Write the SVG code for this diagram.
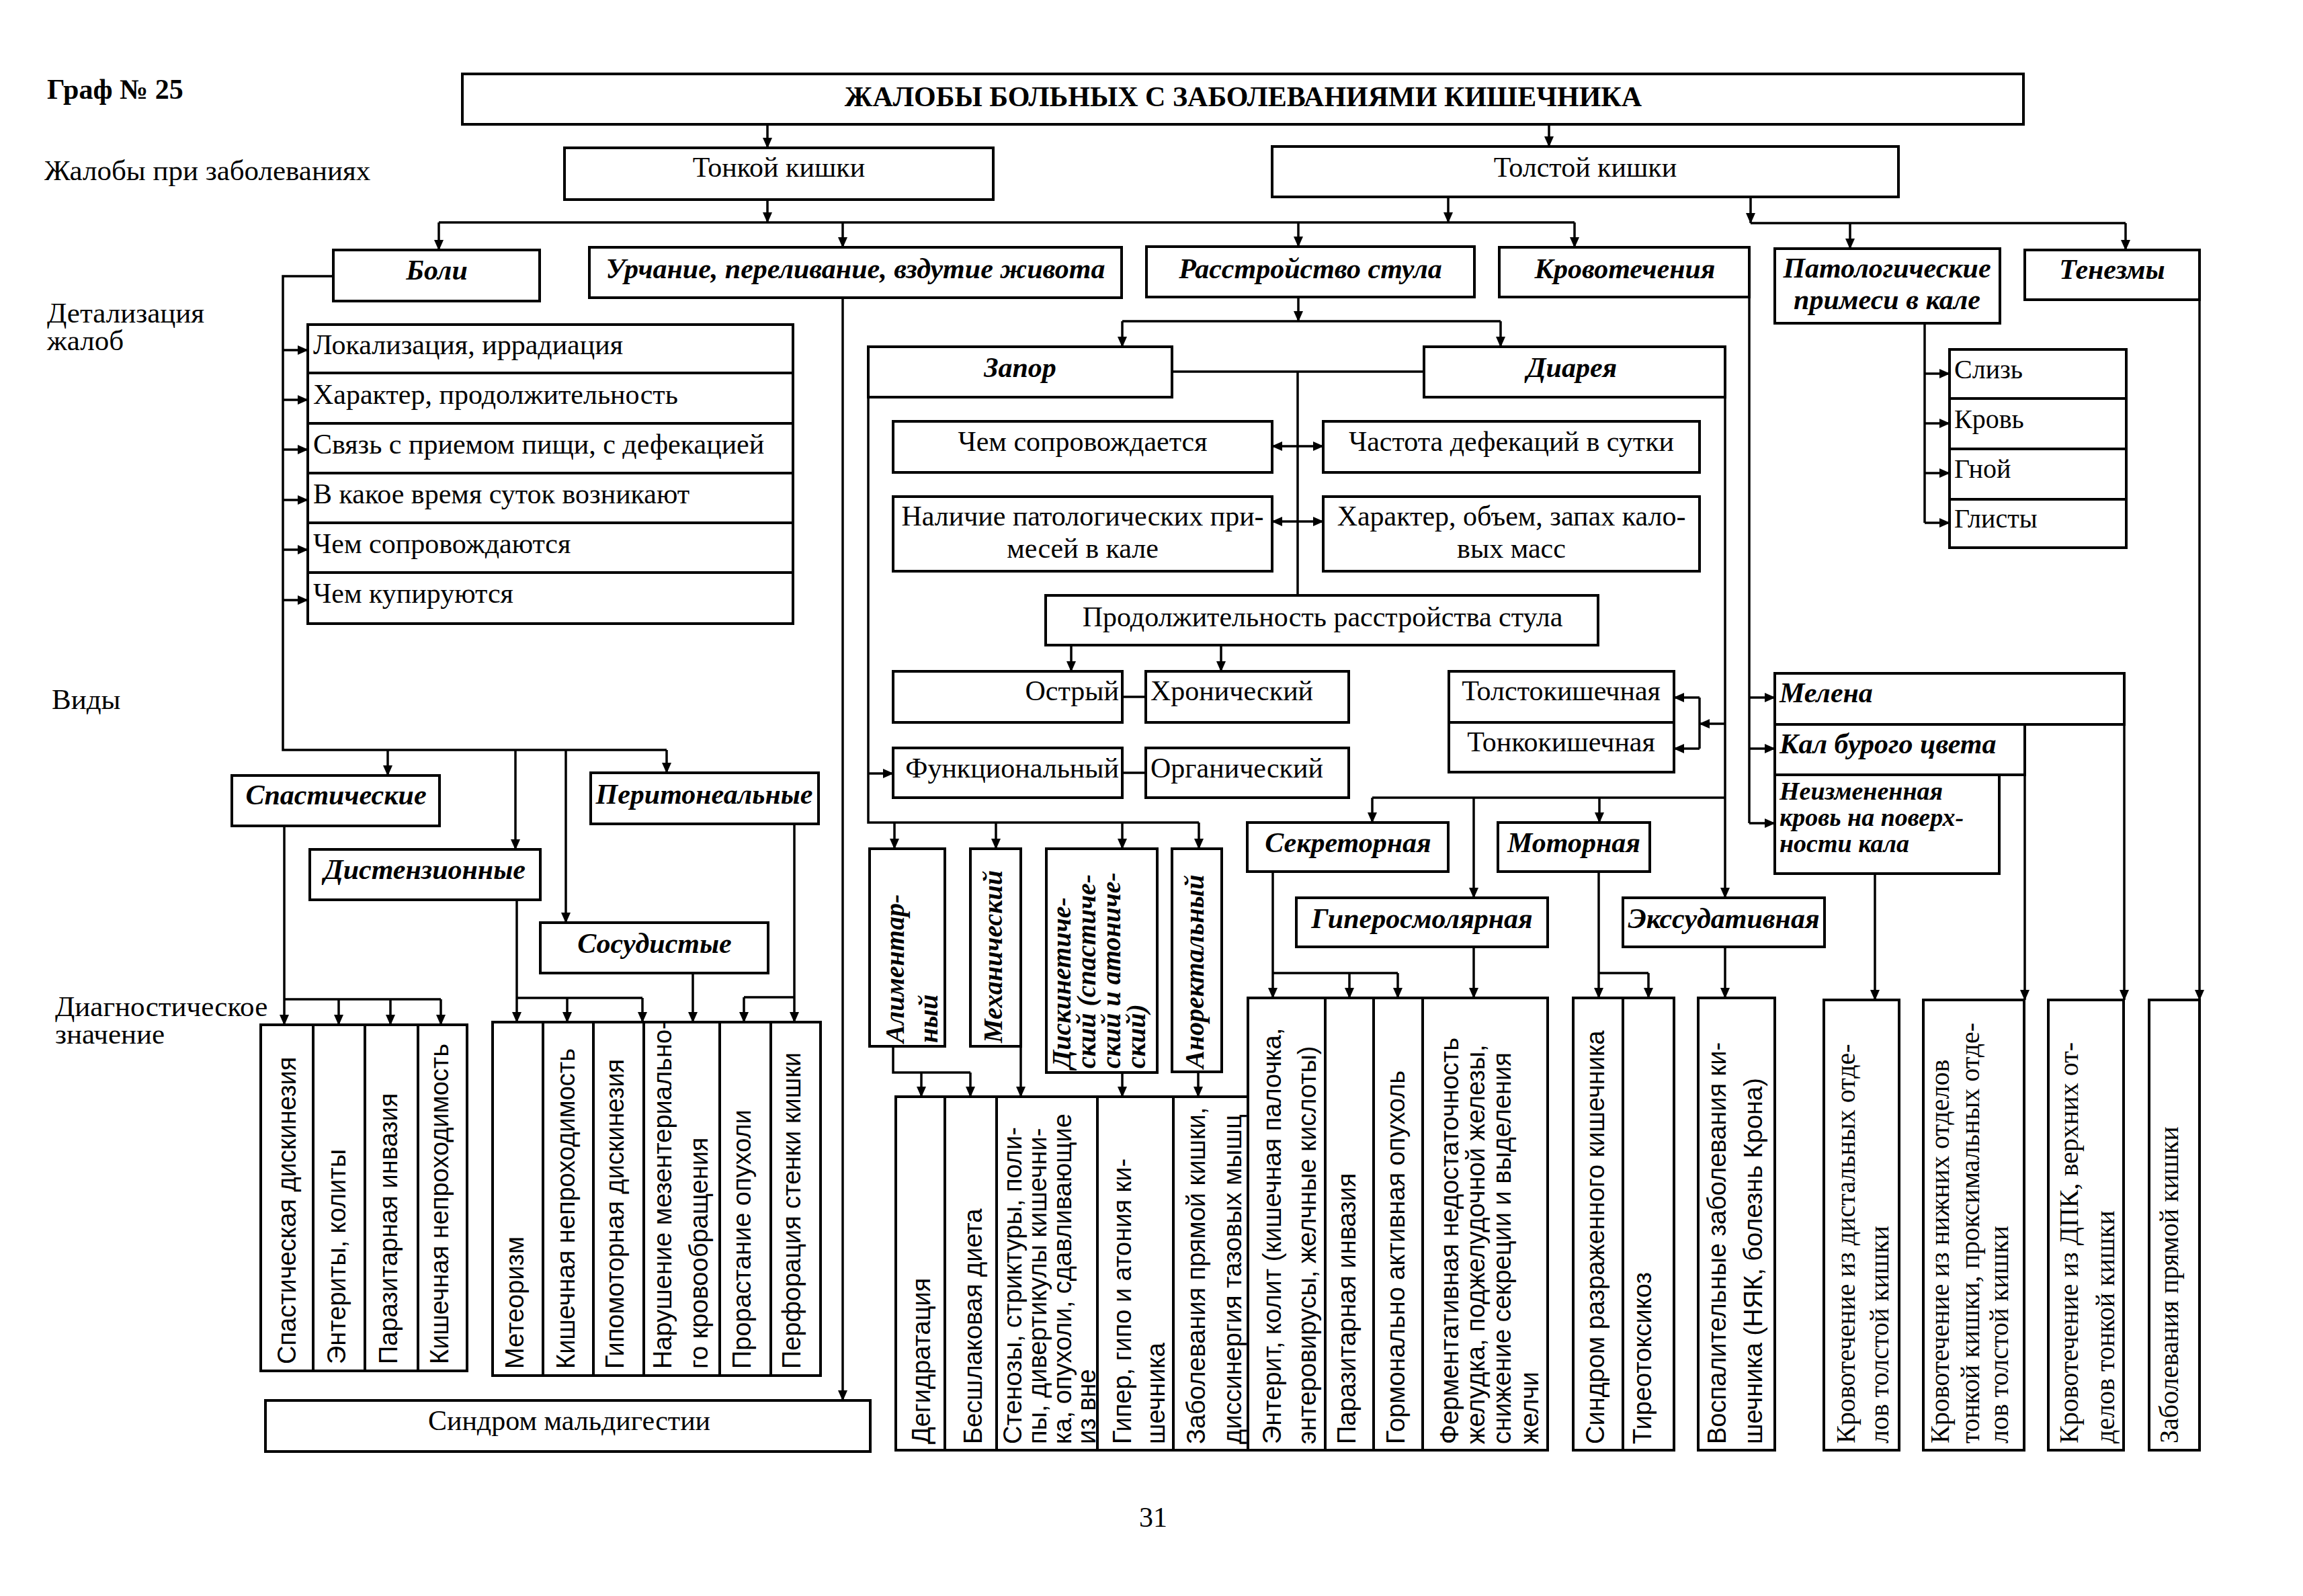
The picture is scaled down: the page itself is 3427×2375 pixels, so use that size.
<svg xmlns="http://www.w3.org/2000/svg" width="3427" height="2375" viewBox="0 0 3427 2375">
<style>
.bg{fill:#fff}
.box{fill:#fff;stroke:#000;stroke-width:4}
.c{fill:none;stroke:#000;stroke-width:3.5}
.a{marker-end:url(#ah)}
.d{marker-start:url(#ah);marker-end:url(#ah)}
.t{font-family:"Liberation Serif","Times New Roman",serif;font-size:42px;fill:#000}
.tv{font-family:"Liberation Serif","Times New Roman",serif;font-size:40px;fill:#000}
.m{text-anchor:middle}
.e{text-anchor:end}
.bi{font-family:"Liberation Serif","Times New Roman",serif;font-size:42px;font-weight:bold;font-style:italic;fill:#000}
.bs{font-family:"Liberation Serif","Times New Roman",serif;font-size:38px;font-weight:bold;font-style:italic;fill:#000}
.vb{font-family:"Liberation Serif","Times New Roman",serif;font-size:40px;font-weight:bold;font-style:italic;fill:#000}
.v{font-family:"Liberation Sans",Arial,sans-serif;font-size:38px;fill:#000}
.lbl{font-family:"Liberation Serif","Times New Roman",serif;font-size:43px;fill:#000}
.hd{font-family:"Liberation Serif","Times New Roman",serif;font-size:42px;font-weight:bold;fill:#000}
</style>
<defs>
<marker id="ah" viewBox="0 0 16 14" refX="15" refY="7" markerWidth="16" markerHeight="14" markerUnits="userSpaceOnUse" orient="auto-start-reverse"><path d="M0,0 L16,7 L0,14 z" fill="#000"/></marker>
</defs>
<rect class="bg" x="0" y="0" width="3427" height="2375"/>

<g id="labels">
<text class="hd" x="70" y="147">Граф № 25</text>
<text class="lbl" x="66" y="268">Жалобы при заболеваниях</text>
<text class="lbl" x="70" y="480">Детализация</text>
<text class="lbl" x="70" y="521">жалоб</text>
<text class="lbl" x="77" y="1055">Виды</text>
<text class="lbl" x="82" y="1512">Диагностическое</text>
<text class="lbl" x="82" y="1553">значение</text>
<text class="t m" x="1716" y="2272">31</text>
</g>

<g id="connectors">
<path class="c a" d="M1142,185 V220"/>
<path class="c a" d="M2305,185 V218"/>
<path class="c a" d="M1142,297 V331"/>
<path class="c a" d="M2155,293 V331"/>
<path class="c" d="M653,331 H2343"/>
<path class="c a" d="M653,331 V372"/>
<path class="c a" d="M1254,331 V368"/>
<path class="c a" d="M1932,331 V367"/>
<path class="c a" d="M2343,331 V368"/>
<path class="c a" d="M2605,293 V332"/>
<path class="c" d="M2605,332 H3163"/>
<path class="c a" d="M2753,332 V370"/>
<path class="c a" d="M3163,332 V372"/>
<path class="c" d="M496,411 H421 V1116 H992"/>
<path class="c a" d="M421,521 H458"/>
<path class="c a" d="M421,595 H458"/>
<path class="c a" d="M421,669 H458"/>
<path class="c a" d="M421,744 H458"/>
<path class="c a" d="M421,818 H458"/>
<path class="c a" d="M421,893 H458"/>
<path class="c a" d="M577,1116 V1154"/>
<path class="c a" d="M767,1116 V1264"/>
<path class="c a" d="M842,1116 V1373"/>
<path class="c a" d="M992,1116 V1150"/>
<path class="c a" d="M1254,443 V2084"/>
<path class="c a" d="M423,1229 V1525"/>
<path class="c" d="M423,1487 H656"/>
<path class="c a" d="M504,1487 V1525"/>
<path class="c a" d="M581,1487 V1525"/>
<path class="c a" d="M656,1487 V1525"/>
<path class="c a" d="M769,1339 V1521"/>
<path class="c" d="M769,1485 H956"/>
<path class="c a" d="M844,1485 V1521"/>
<path class="c a" d="M956,1485 V1521"/>
<path class="c a" d="M1031,1448 V1521"/>
<path class="c a" d="M1182,1226 V1521"/>
<path class="c" d="M1107,1484 H1182"/>
<path class="c a" d="M1107,1484 V1521"/>
<path class="c a" d="M1932,442 V478"/>
<path class="c" d="M1670,478 H2233"/>
<path class="c a" d="M1670,478 V516"/>
<path class="c a" d="M2233,478 V516"/>
<path class="c" d="M1744,553 H2119 M1931,553 V886"/>
<path class="c d" d="M1893,664 H1969"/>
<path class="c d" d="M1893,776 H1969"/>
<path class="c a" d="M1594,960 V999"/>
<path class="c a" d="M1817,960 V999"/>
<path class="c" d="M1670,1037 H1705 M1670,1150 H1705"/>
<path class="c" d="M1292,591 V1224 H1784"/>
<path class="c a" d="M1292,1151 H1329"/>
<path class="c a" d="M1331,1224 V1263"/>
<path class="c a" d="M1482,1224 V1263"/>
<path class="c a" d="M1670,1224 V1263"/>
<path class="c a" d="M1784,1224 V1263"/>
<path class="c" d="M1329,1557 V1596 H1444"/>
<path class="c a" d="M1371,1596 V1632"/>
<path class="c a" d="M1444,1596 V1632"/>
<path class="c a" d="M1519,1557 V1632"/>
<path class="c a" d="M1670,1596 V1632"/>
<path class="c a" d="M1783,1595 V1632"/>
<path class="c a" d="M2567,591 V1336"/>
<path class="c a" d="M2567,1077 H2529"/>
<path class="c" d="M2529,1038 V1114"/>
<path class="c a" d="M2529,1038 H2491"/>
<path class="c a" d="M2529,1114 H2491"/>
<path class="c" d="M2042,1187 H2567"/>
<path class="c a" d="M2042,1187 V1224"/>
<path class="c a" d="M2193,1187 V1336"/>
<path class="c a" d="M2380,1187 V1224"/>
<path class="c a" d="M1894,1297 V1485"/>
<path class="c" d="M1894,1448 H2080"/>
<path class="c a" d="M2008,1448 V1485"/>
<path class="c a" d="M2080,1448 V1485"/>
<path class="c a" d="M2193,1409 V1485"/>
<path class="c a" d="M2379,1297 V1485"/>
<path class="c" d="M2379,1448 H2453"/>
<path class="c a" d="M2453,1448 V1485"/>
<path class="c a" d="M2567,1409 V1485"/>
<path class="c" d="M2603,442 V1225"/>
<path class="c a" d="M2603,1038 H2641"/>
<path class="c a" d="M2603,1114 H2641"/>
<path class="c a" d="M2603,1225 H2641"/>
<path class="c" d="M2864,479 V778"/>
<path class="c a" d="M2864,556 H2901"/>
<path class="c a" d="M2864,630 H2901"/>
<path class="c a" d="M2864,704 H2901"/>
<path class="c a" d="M2864,778 H2901"/>
<path class="c a" d="M2790,1300 V1488"/>
<path class="c a" d="M3013,1153 V1488"/>
<path class="c a" d="M3161,1078 V1488"/>
<path class="c a" d="M3273,446 V1488"/>
</g>

<g id="n-title"><rect class="box" x="688" y="110" width="2323" height="75"/><text class="hd m" x="1850" y="158">ЖАЛОБЫ БОЛЬНЫХ С ЗАБОЛЕВАНИЯМИ КИШЕЧНИКА</text></g>
<g id="n-tonk"><rect class="box" x="840" y="220" width="638" height="77"/><text class="t m" x="1159" y="263">Тонкой кишки</text></g>
<g id="n-tolst"><rect class="box" x="1893" y="218" width="932" height="75"/><text class="t m" x="2359" y="263">Толстой кишки</text></g>

<g id="n-boli"><rect class="box" x="496" y="372" width="307" height="76"/><text class="bi m" x="650" y="416">Боли</text></g>
<g id="n-urch"><rect class="box" x="877" y="368" width="792" height="75"/><text class="bi m" x="1273" y="414">Урчание, переливание, вздутие живота</text></g>
<g id="n-rasstr"><rect class="box" x="1706" y="367" width="488" height="75"/><text class="bi m" x="1950" y="414">Расстройство стула</text></g>
<g id="n-krov"><rect class="box" x="2231" y="368" width="372" height="74"/><text class="bi m" x="2418" y="414">Кровотечения</text></g>
<g id="n-patol"><rect class="box" x="2641" y="370" width="335" height="111"/><text class="bi m" x="2808" y="413">Патологические</text><text class="bi m" x="2808" y="460">примеси в кале</text></g>
<g id="n-tenez"><rect class="box" x="3013" y="372" width="260" height="74"/><text class="bi m" x="3143" y="415">Тенезмы</text></g>

<g id="n-d1"><rect class="box" x="458" y="483" width="722" height="72"/><text class="t" x="466" y="527">Локализация, иррадиация</text></g>
<g id="n-d2"><rect class="box" x="458" y="555" width="722" height="75"/><text class="t" x="466" y="601">Характер, продолжительность</text></g>
<g id="n-d3"><rect class="box" x="458" y="630" width="722" height="74"/><text class="t" x="466" y="675">Связь с приемом пищи, с дефекацией</text></g>
<g id="n-d4"><rect class="box" x="458" y="704" width="722" height="74"/><text class="t" x="466" y="749">В какое время суток возникают</text></g>
<g id="n-d5"><rect class="box" x="458" y="778" width="722" height="74"/><text class="t" x="466" y="823">Чем сопровождаются</text></g>
<g id="n-d6"><rect class="box" x="458" y="852" width="722" height="76"/><text class="t" x="466" y="897">Чем купируются</text></g>

<g id="n-spast"><rect class="box" x="345" y="1154" width="309" height="75"/><text class="bi m" x="500" y="1197">Спастические</text></g>
<g id="n-disten"><rect class="box" x="461" y="1264" width="343" height="75"/><text class="bi m" x="632" y="1308">Дистензионные</text></g>
<g id="n-sosud"><rect class="box" x="804" y="1373" width="339" height="75"/><text class="bi m" x="974" y="1418">Сосудистые</text></g>
<g id="n-perit"><rect class="box" x="879" y="1150" width="339" height="76"/><text class="bi m" x="1048" y="1196">Перитонеальные</text></g>

<g id="n-g1a"><rect class="box" x="388" y="1525" width="78" height="515"/><text class="v" transform="translate(440,2030) rotate(-90)">Спастическая дискинезия</text></g>
<g id="n-g1b"><rect class="box" x="466" y="1525" width="77" height="515"/><text class="v" transform="translate(514,2030) rotate(-90)">Энтериты, колиты</text></g>
<g id="n-g1c"><rect class="box" x="543" y="1525" width="79" height="515"/><text class="v" transform="translate(591,2030) rotate(-90)">Паразитарная инвазия</text></g>
<g id="n-g1d"><rect class="box" x="622" y="1525" width="73" height="515"/><text class="v" transform="translate(667,2030) rotate(-90)">Кишечная непроходимость</text></g>

<g id="n-g2a"><rect class="box" x="733" y="1521" width="75" height="526"/><text class="v" transform="translate(779,2037) rotate(-90)">Метеоризм</text></g>
<g id="n-g2b"><rect class="box" x="808" y="1521" width="75" height="526"/><text class="v" transform="translate(855,2037) rotate(-90)">Кишечная непроходимость</text></g>
<g id="n-g2c"><rect class="box" x="883" y="1521" width="75" height="526"/><text class="v" transform="translate(928,2037) rotate(-90)">Гипомоторная дискинезия</text></g>
<g id="n-g2d"><rect class="box" x="958" y="1521" width="113" height="526"/><text class="v" transform="translate(999,2037) rotate(-90)"><tspan x="0" y="0">Нарушение мезентериально-</tspan><tspan x="0" y="54">го кровообращения</tspan></text></g>
<g id="n-g2e"><rect class="box" x="1071" y="1521" width="76" height="526"/><text class="v" transform="translate(1117,2037) rotate(-90)">Прорастание опухоли</text></g>
<g id="n-g2f"><rect class="box" x="1147" y="1521" width="74" height="526"/><text class="v" transform="translate(1191,2037) rotate(-90)">Перфорация стенки кишки</text></g>

<g id="n-maldig"><rect class="box" x="395" y="2084" width="900" height="76"/><text class="t m" x="847" y="2128">Синдром мальдигестии</text></g>

<g id="n-zapor"><rect class="box" x="1292" y="516" width="452" height="75"/><text class="bi m" x="1518" y="561">Запор</text></g>
<g id="n-diar"><rect class="box" x="2119" y="516" width="448" height="75"/><text class="bi m" x="2339" y="561">Диарея</text></g>
<g id="n-chem"><rect class="box" x="1329" y="627" width="564" height="76"/><text class="t m" x="1611" y="671">Чем сопровождается</text></g>
<g id="n-chast"><rect class="box" x="1969" y="627" width="560" height="76"/><text class="t m" x="2249" y="671">Частота дефекаций в сутки</text></g>
<g id="n-nalich"><rect class="box" x="1329" y="739" width="564" height="111"/><text class="t m" x="1611" y="782">Наличие патологических при-</text><text class="t m" x="1611" y="830">месей в кале</text></g>
<g id="n-harakt"><rect class="box" x="1969" y="739" width="560" height="111"/><text class="t m" x="2249" y="782">Характер, объем, запах  кало-</text><text class="t m" x="2249" y="830">вых масс</text></g>
<g id="n-prodol"><rect class="box" x="1556" y="886" width="822" height="74"/><text class="t m" x="1968" y="932">Продолжительность расстройства стула</text></g>
<g id="n-ostr"><rect class="box" x="1329" y="999" width="341" height="76"/><text class="t e" x="1665" y="1042">Острый</text></g>
<g id="n-hron"><rect class="box" x="1705" y="999" width="302" height="76"/><text class="t" x="1712" y="1042">Хронический</text></g>
<g id="n-funk"><rect class="box" x="1329" y="1113" width="341" height="74"/><text class="t e" x="1665" y="1157">Функциональный</text></g>
<g id="n-organ"><rect class="box" x="1705" y="1113" width="302" height="74"/><text class="t" x="1712" y="1157">Органический</text></g>
<g id="n-tolstk"><rect class="box" x="2156" y="999" width="335" height="76"/><text class="t m" x="2323" y="1042">Толстокишечная</text></g>
<g id="n-tonkk"><rect class="box" x="2156" y="1075" width="335" height="74"/><text class="t m" x="2323" y="1118">Тонкокишечная</text></g>

<g id="n-alim"><rect class="box" x="1294" y="1263" width="112" height="294"/><text class="vb" transform="translate(1345,1552) rotate(-90)"><tspan x="0" y="0">Алиментар-</tspan><tspan x="0" y="50">ный</tspan></text></g>
<g id="n-meh"><rect class="box" x="1444" y="1263" width="75" height="294"/><text class="vb" transform="translate(1491,1552) rotate(-90)">Механический</text></g>
<g id="n-disk"><rect class="box" x="1557" y="1263" width="165" height="333"/><text class="vb" transform="translate(1593,1590) rotate(-90)"><tspan x="0" y="0">Дискинетиче-</tspan><tspan x="0" y="37">ский (спастиче-</tspan><tspan x="0" y="74">ский и атониче-</tspan><tspan x="0" y="111">ский)</tspan></text></g>
<g id="n-anor"><rect class="box" x="1744" y="1263" width="74" height="332"/><text class="vb" transform="translate(1791,1590) rotate(-90)">Аноректальный</text></g>

<g id="n-g3a"><rect class="box" x="1333" y="1632" width="73" height="526"/><text class="v" transform="translate(1384,2149) rotate(-90)">Дегидратация</text></g>
<g id="n-g3b"><rect class="box" x="1406" y="1632" width="77" height="526"/><text class="v" transform="translate(1461,2149) rotate(-90)">Бесшлаковая диета</text></g>
<g id="n-g3c"><rect class="box" x="1483" y="1632" width="150" height="526"/><text class="v" transform="translate(1520,2149) rotate(-90)"><tspan x="0" y="0">Стенозы, стриктуры, поли-</tspan><tspan x="0" y="37">пы, дивертикулы  кишечни-</tspan><tspan x="0" y="74">ка, опухоли, сдавливающие</tspan><tspan x="0" y="110">из вне</tspan></text></g>
<g id="n-g3d"><rect class="box" x="1633" y="1632" width="113" height="526"/><text class="v" transform="translate(1683,2149) rotate(-90)"><tspan x="0" y="0">Гипер, гипо и атония ки-</tspan><tspan x="0" y="50">шечника</tspan></text></g>
<g id="n-g3e"><rect class="box" x="1746" y="1632" width="111" height="526"/><text class="v" transform="translate(1793,2149) rotate(-90)"><tspan x="0" y="0">Заболевания прямой кишки,</tspan><tspan x="0" y="54">диссинергия тазовых мышц</tspan></text></g>

<g id="n-sekr"><rect class="box" x="1856" y="1224" width="299" height="73"/><text class="bi m" x="2006" y="1268">Секреторная</text></g>
<g id="n-motor"><rect class="box" x="2229" y="1224" width="226" height="73"/><text class="bi m" x="2342" y="1268">Моторная</text></g>
<g id="n-giper"><rect class="box" x="1929" y="1336" width="374" height="73"/><text class="bi m" x="2116" y="1381">Гиперосмолярная</text></g>
<g id="n-ekss"><rect class="box" x="2415" y="1336" width="300" height="73"/><text class="bi m" x="2565" y="1381">Экссудативная</text></g>

<g id="n-g4a"><rect class="box" x="1857" y="1485" width="115" height="673"/><text class="v" transform="translate(1906,2149) rotate(-90)"><tspan x="0" y="0">Энтерит, колит (кишечная палочка,</tspan><tspan x="0" y="52">энтеровирусы, желчные кислоты)</tspan></text></g>
<g id="n-g4b"><rect class="box" x="1972" y="1485" width="72" height="673"/><text class="v" transform="translate(2017,2149) rotate(-90)">Паразитарная инвазия</text></g>
<g id="n-g4c"><rect class="box" x="2044" y="1485" width="73" height="673"/><text class="v" transform="translate(2090,2149) rotate(-90)">Гормонально активная опухоль</text></g>
<g id="n-g4d"><rect class="box" x="2117" y="1485" width="186" height="673"/><text class="v" transform="translate(2170,2149) rotate(-90)"><tspan x="0" y="0">Ферментативная недостаточность</tspan><tspan x="0" y="39">желудка, поджелудочной железы,</tspan><tspan x="0" y="78">снижение секреции и выделения</tspan><tspan x="0" y="119">желчи</tspan></text></g>

<g id="n-g5a"><rect class="box" x="2341" y="1485" width="74" height="673"/><text class="v" transform="translate(2387,2149) rotate(-90)">Синдром разраженного кишечника</text></g>
<g id="n-g5b"><rect class="box" x="2415" y="1485" width="76" height="673"/><text class="v" transform="translate(2457,2149) rotate(-90)">Тиреотоксикоз</text></g>
<g id="n-g6"><rect class="box" x="2527" y="1485" width="114" height="673"/><text class="v" transform="translate(2568,2149) rotate(-90)"><tspan x="0" y="0">Воспалительные заболевания ки-</tspan><tspan x="0" y="54">шечника (НЯК, болезнь Крона)</tspan></text></g>

<g id="n-sliz"><rect class="box" x="2901" y="520" width="263" height="73"/><text class="tv" x="2908" y="563">Слизь</text></g>
<g id="n-krovp"><rect class="box" x="2901" y="593" width="263" height="75"/><text class="tv" x="2908" y="637">Кровь</text></g>
<g id="n-gnoy"><rect class="box" x="2901" y="668" width="263" height="75"/><text class="tv" x="2908" y="711">Гной</text></g>
<g id="n-glist"><rect class="box" x="2901" y="743" width="263" height="72"/><text class="tv" x="2908" y="785">Глисты</text></g>

<g id="n-melena"><rect class="box" x="2641" y="1002" width="520" height="76"/><text class="bi" x="2648" y="1045">Мелена</text></g>
<g id="n-kal"><rect class="box" x="2641" y="1078" width="372" height="75"/><text class="bi" x="2648" y="1121">Кал бурого цвета</text></g>
<g id="n-neizm"><rect class="box" x="2641" y="1153" width="334" height="147"/><text class="bs" x="2648" y="1190">Неизмененная</text><text class="bs" x="2648" y="1229">кровь на поверх-</text><text class="bs" x="2648" y="1268">ности кала</text></g>

<g id="n-rA"><rect class="box" x="2714" y="1488" width="112" height="670"/><text class="tv" transform="translate(2760,2148) rotate(-90)"><tspan x="0" y="0">Кровотечение из дистальных отде-</tspan><tspan x="0" y="50">лов толстой кишки</tspan></text></g>
<g id="n-rB"><rect class="box" x="2862" y="1488" width="150" height="670"/><text class="tv" transform="translate(2900,2148) rotate(-90)"><tspan x="0" y="0">Кровотечение из нижних отделов</tspan><tspan x="0" y="45">тонкой кишки, проксимальных отде-</tspan><tspan x="0" y="88">лов толстой кишки</tspan></text></g>
<g id="n-rC"><rect class="box" x="3048" y="1488" width="112" height="670"/><text class="tv" transform="translate(3092,2148) rotate(-90)"><tspan x="0" y="0">Кровотечение из ДПК, верхних от-</tspan><tspan x="0" y="54">делов тонкой кишки</tspan></text></g>
<g id="n-rD"><rect class="box" x="3198" y="1488" width="75" height="670"/><text class="tv" transform="translate(3241,2148) rotate(-90)">Заболевания прямой кишки</text></g>
</svg>
